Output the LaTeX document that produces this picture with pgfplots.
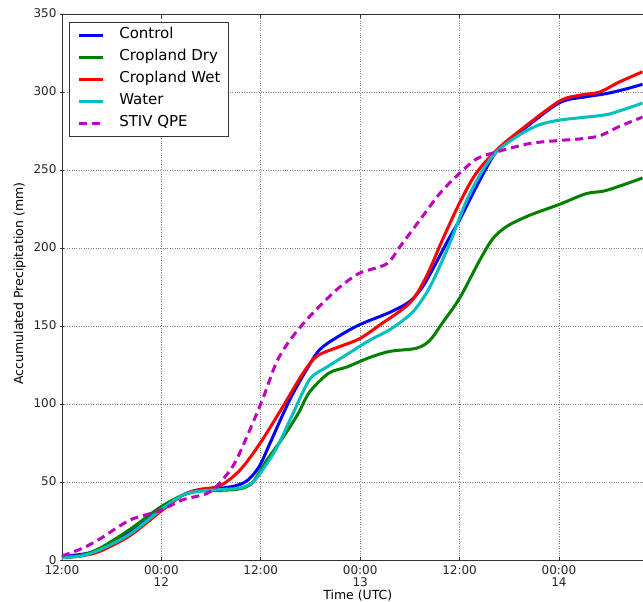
\documentclass[border=0pt]{standalone}
\usepackage{fontspec}
\setmainfont{DejaVu Sans}
\usepackage{pgfplots}
\pgfplotsset{compat=1.18}

\definecolor{mplblue}{rgb}{0,0,1}
\definecolor{mplgreen}{rgb}{0,0.5,0}
\definecolor{mplred}{rgb}{1,0,0}
\definecolor{mplcyan}{rgb}{0,0.75,0.75}
\definecolor{mplmag}{rgb}{0.75,0,0.75}

\begin{document}
\begin{tikzpicture}
\begin{axis}[
  width=581pt, height=547pt, scale only axis,
  xmin=0, xmax=70.1, ymin=0, ymax=350,
  axis x line=box, axis y line=left, axis line style={-, black!80, line width=0.8pt},
  xtick={0,12,24,36,48,60},
  xticklabels={12:00,{00:00\\12},12:00,{00:00\\13},12:00,{00:00\\14}},
  ytick={0,50,...,350},
  /pgf/number format/assume math mode=true,
  tick label style={font=\fontsize{12}{11.5}\selectfont, black!85},
  x tick label style={align=center, inner ysep=0pt, yshift=-5pt},
  y tick label style={inner ysep=0pt, yshift=1pt},
  major tick length=4pt, tick style={black!80, line width=0.6pt},
  grid=major, major grid style={dotted, gray, line width=0.7pt},
  xlabel={Time (UTC)}, ylabel={Accumulated Precipitation (mm)},
  label style={font=\fontsize{12.5}{12.5}\selectfont},
  xlabel style={at={(axis description cs:0.5095,0)}, anchor=north, inner sep=0pt, yshift=-29pt},
  ylabel style={at={(axis description cs:-0.073,0.507)}, anchor=center, inner sep=0pt},
  legend style={at={(axis description cs:0.012,0.985)}, anchor=north west,
    draw=black!80, line width=0.8pt, font=\fontsize{15}{15}\selectfont,
    inner xsep=8pt, inner ysep=5.5pt, row sep=7.5pt, column sep=15pt,
    nodes={inner sep=0pt, text height=10.5pt, text depth=4pt}},
  legend cell align=left,
  legend image code/.code={\draw[#1] plot coordinates {(0pt,0pt) (24pt,0pt)};},
  every axis plot/.append style={smooth, tension=0.5},
]
\addplot[mplblue, line width=3pt] coordinates {
(0,3) (2.3,4) (4.6,7) (8.2,18) (11.8,32) (14.6,42) (16.6,45.5) (18.5,46)
(20.6,47.5) (22.0,50) (23.0,54.5) (24.0,62) (25.1,75) (27.5,103) (29.5,122)
(31.1,135) (33.2,143) (35.9,151) (39.6,159) (42.0,166) (43.5,175) (44.7,186)
(46.8,207) (48.0,218) (49.6,235) (51.3,252) (52.5,262) (55.2,274) (60.0,293)
(63.3,297) (65.7,299) (68.1,302) (70.1,305)};
\addlegendentry{Control}
\addplot[mplgreen, line width=3pt] coordinates {
(0,2) (2.3,3.5) (4.6,8) (8.2,20) (11.8,34) (14.6,42) (16.6,44.5) (19.1,45)
(21.5,46) (23.0,50) (24.7,64) (26.7,79) (28.5,94) (29.9,108) (32.2,120)
(34.4,124) (37.1,130) (39.6,134) (42.8,136) (44.4,141) (45.9,152) (48.0,168)
(50.4,192) (52.0,206) (53.7,214) (56.4,221) (60.0,228) (63.3,235) (65.7,237)
(70.1,245)};
\addlegendentry{Cropland Dry}
\addplot[mplred, line width=3pt] coordinates {
(0,2) (2.3,3) (4.6,6) (8.2,16) (11.8,31) (14.6,42) (16.6,45.5) (19.1,48)
(21.5,58) (23.9,75) (26.6,98) (29.1,120) (30.8,131) (33.5,137) (35.9,142)
(38.4,151) (42.0,165) (44.0,182) (45.9,205) (48.0,229) (50.0,248)
(52.5,263) (55.2,275) (60.0,294) (62.5,298) (64.9,300) (67.3,306.5) (70.1,313)};
\addlegendentry{Cropland Wet}
\addplot[mplcyan, line width=3pt] coordinates {
(0,2) (2.3,3) (4.6,7) (8.2,17) (11.8,32) (14.6,42) (16.6,44.5) (19.1,45.5)
(21.5,46.5) (23.0,50) (24.2,58) (25.9,72) (27.7,92) (29.9,116) (32.0,124)
(34.7,133) (37.1,141) (39.6,148) (42.3,159) (44.4,175) (46.8,203) (48.8,230)
(50.8,250) (52.5,262) (55.2,272.5) (57.6,279) (60.0,282) (63.3,284) (66.1,286)
(70.1,293)};
\addlegendentry{Water}
\addplot[mplmag, line width=3pt, dash pattern=on 8pt off 5pt] coordinates {
(0,3) (2.5,8) (4.6,14) (8.2,26) (11.8,32) (14.6,39) (17.5,43) (19.1,50)
(20.8,62) (22.3,79) (24.2,103) (25.9,127) (27.5,141) (29.5,154) (31.5,165)
(33.5,175) (35.9,184) (39.2,190) (40.8,201) (43.2,218) (45.6,235) (48.0,248)
(50.0,257) (52.0,261) (56.4,267) (60.0,269) (62.5,270) (64.9,272) (67.3,278)
(70.1,284)};
\addlegendentry{STIV QPE}
\end{axis}
\path ([shift={(-62pt,-41.3pt)}]current axis.south west) rectangle ([shift={(0pt,14pt)}]current axis.north east);
\end{tikzpicture}
\end{document}
